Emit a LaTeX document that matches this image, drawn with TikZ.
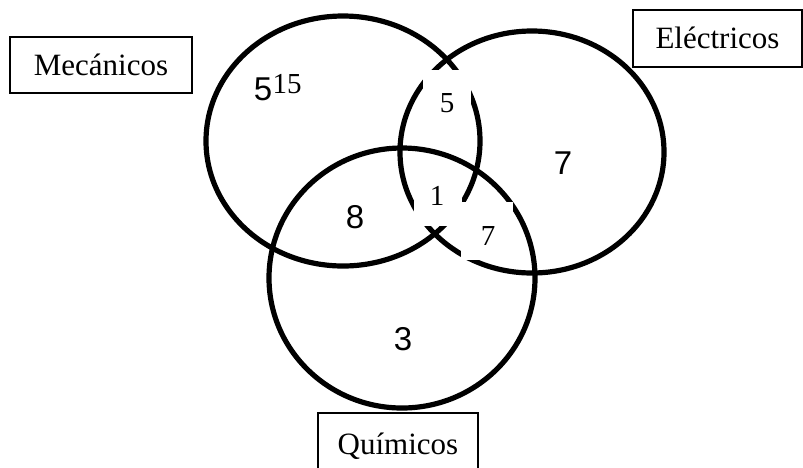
\documentclass[tikz,border=0pt]{standalone}
\usepackage{fontspec}
\setmainfont{Liberation Serif}
\newfontfamily\arialf{Liberation Sans}
\begin{document}
\begin{tikzpicture}[x=1pt,y=-1pt,
  ring/.style={line width=5.2pt},
  cover/.style={fill=white,draw=none},
  labelbox/.style={draw,line width=1.4pt,inner sep=0pt,
    font=\fontsize{31}{31}\selectfont,text height=20.5pt,text depth=0pt},
  sernum/.style={inner sep=0pt,anchor=base,font=\fontsize{29}{29}\selectfont},
  sansnum/.style={inner sep=0pt,anchor=base,font=\arialf\fontsize{33}{33}\selectfont}]
\useasboundingbox (0,0) rectangle (803,467);
% circles
\draw[ring] (343,141) ellipse [x radius=137pt, y radius=125pt];
\draw[ring] (532,152) ellipse [x radius=132pt, y radius=121pt];
\draw[ring] (402,278) ellipse [x radius=133pt, y radius=130pt];
% white text boxes covering parts of the circles
\fill[cover] (423,70) rectangle (471,118);
\fill[cover] (414,180) rectangle (462,226);
\fill[cover] (461,202) rectangle (513,260);
% labels
\node[labelbox,minimum width=182pt,minimum height=56pt] (mec) at (101,65) {Mecánicos};
\node[labelbox,minimum width=169pt,minimum height=57pt] (ele) at (717.5,38.5) {Eléctricos};
\node[labelbox,minimum width=160pt,minimum height=62pt] (qui) at (398,444) {Químicos};
% numbers
\node[sansnum] (m5) at (263,100) {5};
\node[sernum] (m15) at (287,93) {15};
\node[sernum] (me) at (447,112) {5};
\node[sernum] (mqe) at (437,205) {1};
\node[sernum] (eq) at (488,245) {7};
\node[sansnum] (mq) at (355,228) {8};
\node[sansnum] (e7) at (563,174) {7};
\node[sansnum] (q3) at (403,350) {3};
\end{tikzpicture}
\end{document}
